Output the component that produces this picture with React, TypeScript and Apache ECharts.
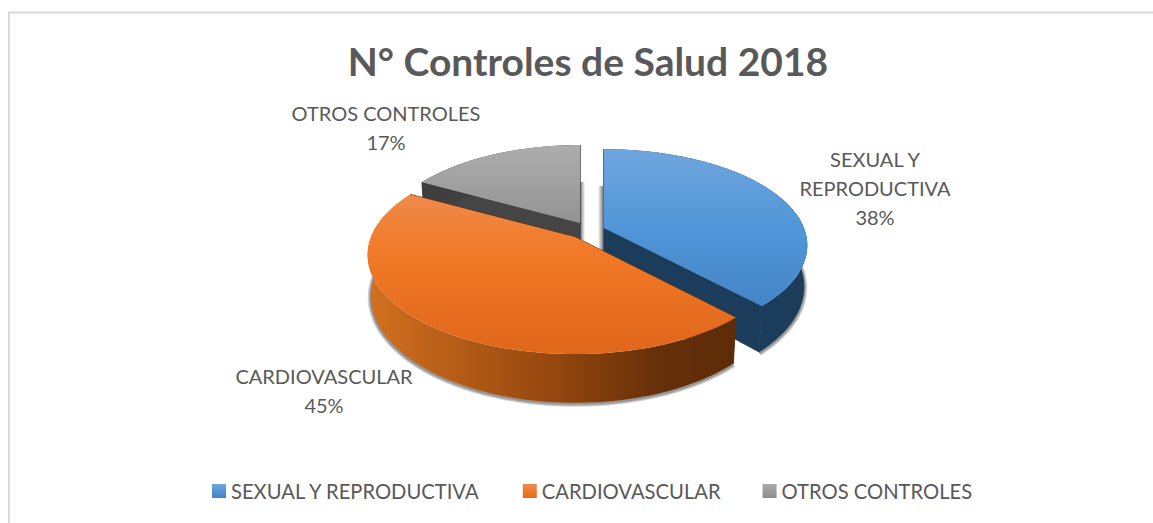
import React, { useEffect, useRef } from "react";
import * as echarts from "echarts";

const categories = ["SEXUAL Y REPRODUCTIVA", "CARDIOVASCULAR", "OTROS CONTROLES"];
const values = [38, 45, 17];
const labelLines = [["SEXUAL Y", "REPRODUCTIVA"], ["CARDIOVASCULAR"], ["OTROS CONTROLES"]];
const titleText = "N° Controles de Salud 2018";

const FONT = "Lato";
const TEXT = "#595959";
const PERSP = 0.18;
const DEPTH = 40;

const layouts = [
  { ax: 604, ay: 228, r: 200, rv: 93, z: 2, label: [875, 188], strip: [-6, -42, 24] },
  { ax: 575, ay: 237, r: 204, rv: 96, z: 3, label: [324, 390], strip: null },
  { ax: 580, ay: 223, r: 196, rv: 92, z: 1, label: [386, 127], strip: [0, -41, 17] },
];
const legendColors = [
  ["#6ea5de", "#4085c6"],
  ["#f08a4c", "#e8691a"],
  ["#ababab", "#8c8c8c"],
];
const topFills = [
  [[0, "#6fa5dd"], [0.5, "#5096d8"], [1, "#4485c6"]],
  [[0, "#ef8a4c"], [0.35, "#f17a28"], [1, "#e0661a"]],
  [[0, "#adadad"], [1, "#939393"]],
];
const wallFills = [
  [[0, "#1c3c5b"], [1, "#1c3c5b"]],
  [[0, "#d27020"], [0.5, "#96470f"], [0.8, "#652f09"], [1, "#5e2c08"]],
  [[0, "#3e3e3e"], [1, "#454545"]],
];

const total = values.reduce((a, b) => a + b, 0);
const startFrac = (i: number) => values.slice(0, i).reduce((a, b) => a + b, 0) / total;

function pt(l: any, th: number, z: number) {
  const u = Math.sin(th);
  const v = Math.cos(th);
  const w = 1 + PERSP * v;
  const shrink = 1 - 0.015 * z;
  return [l.ax + (l.r * shrink * u) / w, l.ay - (l.rv * v) / w + (z * DEPTH) / w];
}
function arcPts(l: any, a: number, b: number, z: number) {
  const out: number[][] = [];
  const n = 90;
  for (let i = 0; i <= n; i++) out.push(pt(l, a + ((b - a) * i) / n, z));
  return out;
}
const grad = (x: number, y: number, x2: number, y2: number, stops: any[]) => ({
  type: "linear",
  x,
  y,
  x2,
  y2,
  colorStops: stops.map(([offset, color]) => ({ offset, color })),
});
const apexBottom = (l: any) => [l.ax, l.ay + DEPTH];

function renderSlice(i: number) {
  return () => {
    const l = layouts[i];
    const a = startFrac(i) * Math.PI * 2;
    const b = a + (values[i] / total) * Math.PI * 2;
    const top = arcPts(l, a, b, 0);
    const bot = arcPts(l, a, b, 1);
    const apex = [l.ax, l.ay];
    const wallStops = wallFills[i];
    const outer = top.concat(bot.slice().reverse());
    const solid = wallFills[i][i === 1 ? 3 : 1][1];
    const endCut = [apex, top[top.length - 1], bot[bot.length - 1], apexBottom(l)];
    const startCut = [apex, top[0], bot[0], apexBottom(l)];
    const children: any[] = [];
    // soft contact shadow round the side wall, built from stacked translucent strokes
    if (i !== 2) {
      [6, 4, 2].forEach((lw) => {
        children.push({
          type: "polyline",
          shape: { points: bot.map((p) => [p[0], p[1] + 1]) },
          style: { fill: "none", stroke: "rgba(0,0,0,0.16)", lineWidth: lw },
        });
      });
    }
    if (l.strip) {
      const [dx, y0, y1] = l.strip as number[];
      children.push({
        type: "polygon",
        shape: {
          points: [
            [l.ax + dx, l.ay + y0],
            [l.ax + dx + 5, l.ay + y0],
            [l.ax + dx + 5, l.ay + y1],
            [l.ax + dx, l.ay + y1],
          ],
        },
        style: {
          fill: grad(0, 0, 1, 0, i === 0
            ? [[0, "rgba(0,0,0,0)"], [1, "rgba(0,0,0,0.5)"]]
            : [[0, "rgba(0,0,0,0.55)"], [1, "rgba(0,0,0,0)"]]),
        },
      });
    }
    children.push(
      { type: "polygon", shape: { points: startCut }, style: { fill: solid, stroke: solid, lineWidth: 1 } },
      { type: "polygon", shape: { points: endCut }, style: { fill: solid, stroke: solid, lineWidth: 1 } },
      { type: "polygon", shape: { points: outer }, style: { fill: grad(0, 0, 1, 0, wallStops) } },
      { type: "polygon", shape: { points: [apex].concat(top) }, style: { fill: grad(0, 0, 0, 1, topFills[i]) } },
    );
    const pct = Math.round((values[i] / total) * 100) + "%";
    children.push({
      type: "text",
      x: l.label[0],
      y: l.label[1],
      style: {
        text: labelLines[i].concat(pct).join("\n"),
        font: `20px ${FONT}`,
        fill: TEXT,
        align: "center",
        verticalAlign: "middle",
        lineHeight: 29,
      },
    });
    return { type: "group", children };
  };
}

export default function App() {
  const ref = useRef<HTMLDivElement>(null);
  useEffect(() => {
    const chart = echarts.init(ref.current!, null, { renderer: "svg" });
    chart.setOption({
      animation: false,
      backgroundColor: "#fff",
      title: {
        text: titleText,
        left: 583,
        top: 36,
        textAlign: "center",
        textStyle: { fontFamily: FONT, fontSize: 39, fontWeight: "bold", color: TEXT },
      },
      legend: {
        data: categories,
        left: 207,
        top: 476,
        itemWidth: 14,
        itemHeight: 14,
        itemGap: 42,
        icon: "rect",
        selectedMode: false,
        textStyle: { fontFamily: FONT, fontSize: 20.2, color: TEXT },
      },
      graphic: [
        {
          type: "polyline",
          silent: true,
          shape: { points: [[9, 523], [9, 12.5], [1153, 12.5]] },
          style: { stroke: "#d9d9d9", fill: "none", lineWidth: 2 },
        },
      ],
      series: categories.map((name, i) => ({
        type: "custom",
        name,
        coordinateSystem: "none",
        z: layouts[i].z + 2,
        silent: true,
        itemStyle: { color: grad(0, 0, 0, 1, legendColors[i].map((c, k) => [k, c])) },
        data: [values[i]],
        renderItem: renderSlice(i),
      })),
    });
    return () => chart.dispose();
  }, []);
  return <div ref={ref} style={{ position: "fixed", left: 0, top: 0, width: 1153, height: 523 }} />;
}
